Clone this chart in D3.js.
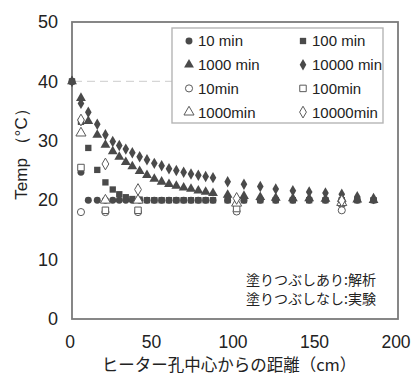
<!DOCTYPE html>
<html>
<head>
<meta charset="utf-8">
<script src="https://cdn.jsdelivr.net/npm/d3@7"></script>
<style>
  html, body { margin: 0; padding: 0; background: #fff; }
  svg { display: block; }
</style>
</head>
<body>
<div id="chart"></div>
<script>
// analysis (filled markers)
var calcDist = [0, 5.5, 10, 15.5, 20.5, 25, 29, 33, 37, 41.5, 46, 50.5, 55, 59.5, 64, 68.5, 73, 77.5, 82, 86.5,
                95.5, 105.5, 115.5, 125, 135.5, 145.5, 155.5, 165.5, 175, 185];
var calc10    = [40, 24.7, 20.0, 20.0, 20.0, 20.0, 20.0, 20.0, 20.0, 20.0, 20.0, 20.0, 20.0, 20.0, 20.0, 20.0, 20.0, 20.0, 20.0, 20.0,
                 20.0, 20.0, 20.0, 20.0, 20.0, 20.0, 20.0, 20.0, 20.0, 20.0];
var calc100   = [40, 33.2, 28.8, 25.1, 23.0, 21.8, 21.0, 20.5, 20.2, 20.1, 20.0, 20.0, 20.0, 20.0, 20.0, 20.0, 20.0, 20.0, 20.0, 20.0,
                 20.0, 20.0, 20.0, 20.0, 20.0, 20.0, 20.0, 20.0, 20.0, 20.0];
var calc1000  = [40, 37.2, 33.3, 31.0, 29.3, 28.2, 27.3, 26.4, 25.7, 24.9, 24.2, 23.6, 23.1, 22.7, 22.4, 22.1, 21.9, 21.6, 21.4, 21.2,
                 20.9, 20.7, 20.5, 20.4, 20.3, 20.3, 20.2, 20.2, 20.1, 20.0];
var calc10000 = [40, 36.3, 34.8, 32.8, 31.0, 29.9, 29.2, 28.6, 28.0, 27.3, 26.8, 26.2, 25.8, 25.3, 25.0, 24.7, 24.4, 24.2, 24.0, 23.8,
                 23.1, 22.7, 22.3, 21.9, 21.6, 21.4, 21.2, 21.0, 20.6, 20.3];

// experiment (open markers)
var expDist   = [5.5, 20.5, 40.5, 101, 165.5];
var exp10     = [18.0, 18.0, 18.0, 18.1, 18.3];
var exp100    = [25.5, 18.3, 18.3, 18.6, 19.5];
var exp1000   = [31.3, 20.0, 20.0, 19.5, 19.6];
var exp10000  = [33.5, 26.1, 21.8, 20.3, 19.9];

var xTicks = [0, 50, 100, 150, 200];
var yTicks = [0, 10, 20, 30, 40, 50];
var legendLabels = ["10 min", "100 min", "1000 min", "10000 min", "10min", "100min", "1000min", "10000min"];
var noteLines = ["塗りつぶしあり:解析", "塗りつぶしなし:実験"];

var W = 414, H = 377;
var plot = {left: 72, right: 398, top: 22, bottom: 319};
var ink = "#4a4a4a";

var x = d3.scaleLinear().domain([0, 200]).range([plot.left, plot.right]);
var y = d3.scaleLinear().domain([0, 50]).range([plot.bottom, plot.top]);

var svg = d3.select("#chart").append("svg")
    .attr("width", W)
    .attr("height", H);

// shapes keyed by time step
var shapes = {
    "10": d3.symbolCircle,
    "100": d3.symbolSquare,
    "1000": d3.symbolTriangle,
    "10000": d3.symbolDiamond
};
var sizes = {"10": 38, "100": 40, "1000": 42, "10000": 38};

function marker(key, filled) {
    return d3.symbol().type(shapes[key]).size(sizes[key] * (filled ? 1 : 1.05))();
}

// faint gridline at 40 (visible left of the legend)
svg.append("line")
    .attr("x1", plot.left + 2).attr("x2", 172)
    .attr("y1", y(40)).attr("y2", y(40))
    .attr("stroke", "#d6d6d6")
    .attr("stroke-width", 1.2)
    .attr("stroke-dasharray", "8,5");

// axes
var xAxis = d3.axisBottom(x).tickValues(xTicks).tickSize(0).tickPadding(0);
var yAxis = d3.axisLeft(y).tickValues(yTicks).tickSize(0).tickPadding(14);

var gx = svg.append("g")
    .attr("transform", "translate(-2.5," + plot.bottom + ")")
    .call(xAxis);
gx.select(".domain").remove();
gx.selectAll("text")
    .attr("y", 29)
    .attr("dy", null)
    .attr("fill", "#222")
    .style("font-family", "'Liberation Sans', Arial, sans-serif")
    .style("font-size", "17.5px");

var gy = svg.append("g")
    .attr("transform", "translate(" + plot.left + ",0)")
    .call(yAxis);
gy.select(".domain").remove();
gy.selectAll("text")
    .attr("fill", "#222")
    .style("font-family", "'Liberation Sans', Arial, sans-serif")
    .style("font-size", "18px");

// plot frame
svg.append("rect")
    .attr("x", plot.left)
    .attr("y", plot.top)
    .attr("width", plot.right - plot.left)
    .attr("height", plot.bottom - plot.top)
    .attr("fill", "none")
    .attr("stroke", "#7a7a7a")
    .attr("stroke-width", 1.8);

// legend box
var lg = svg.append("g");
lg.append("rect")
    .attr("x", 172).attr("y", 28)
    .attr("width", 211).attr("height", 95)
    .attr("fill", "#fff")
    .attr("stroke", "#b5b5b5")
    .attr("stroke-width", 1.4);

var legendKeys = ["10", "100", "1000", "10000", "10", "100", "1000", "10000"];
legendKeys.forEach(function(k, i) {
    var col = i % 2, row = Math.floor(i / 2);
    var filled = i < 4;
    var mx = col === 0 ? 189 : 303;
    var my = 41 + row * 23.7;
    lg.append("path")
        .attr("d", marker(k, filled))
        .attr("transform", "translate(" + mx + "," + my + ")")
        .attr("fill", filled ? ink : "#fff")
        .attr("stroke", filled ? "none" : "#5a5a5a")
        .attr("stroke-width", 1);
    lg.append("text")
        .attr("x", mx + 9)
        .attr("y", my)
        .attr("dy", "0.36em")
        .attr("fill", "#222")
        .style("font-family", "'Liberation Sans', Arial, sans-serif")
        .style("font-size", "15px")
        .text(legendLabels[i]);
});

// analysis series, square drawn last so the heater point reads as a square
var calcSeries = [
    {key: "10", vals: calc10},
    {key: "1000", vals: calc1000},
    {key: "10000", vals: calc10000},
    {key: "100", vals: calc100}
];
calcSeries.forEach(function(s) {
    svg.append("g").selectAll("path")
        .data(calcDist.map(function(d, i) { return {x: d, t: s.vals[i]}; }))
        .enter().append("path")
        .attr("d", marker(s.key, true))
        .attr("transform", function(d) { return "translate(" + x(d.x) + "," + y(d.t) + ")"; })
        .attr("fill", ink);
});

var expSeries = [
    {key: "10", vals: exp10},
    {key: "100", vals: exp100},
    {key: "1000", vals: exp1000},
    {key: "10000", vals: exp10000}
];
expSeries.forEach(function(s) {
    svg.append("g").selectAll("path")
        .data(expDist.map(function(d, i) { return {x: d, t: s.vals[i]}; }))
        .enter().append("path")
        .attr("d", marker(s.key, false))
        .attr("transform", function(d) { return "translate(" + x(d.x) + "," + y(d.t) + ")"; })
        .attr("fill", "#fff")
        .attr("stroke", "#5a5a5a")
        .attr("stroke-width", 1);
});

// note
svg.append("g").selectAll("text")
    .data(noteLines)
    .enter().append("text")
    .attr("x", 376)
    .attr("y", function(d, i) { return 280 + i * 18.5; })
    .attr("dy", "0.36em")
    .attr("text-anchor", "end")
    .attr("fill", "#222")
    .style("font-family", "'Noto Sans CJK JP', sans-serif")
    .style("font-size", "14px")
    .text(function(d) { return d; });

// axis titles
svg.append("text")
    .attr("transform", "translate(27,150) rotate(-90)")
    .attr("text-anchor", "middle")
    .attr("fill", "#222")
    .style("font-family", "'Liberation Sans', Arial, sans-serif")
    .style("font-size", "17px")
    .text("Temp （°C）");

svg.append("text")
    .attr("x", 229)
    .attr("y", 371)
    .attr("text-anchor", "middle")
    .attr("fill", "#222")
    .style("font-family", "'Noto Sans CJK JP', sans-serif")
    .style("font-size", "16.5px")
    .text("ヒーター孔中心からの距離（cm）");
</script>
